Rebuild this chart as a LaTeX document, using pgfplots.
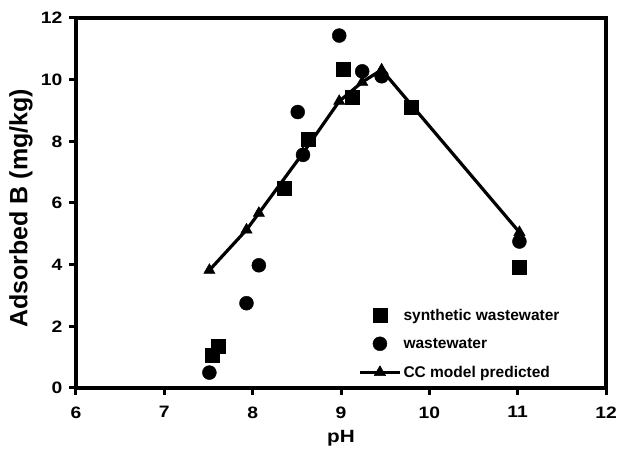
\documentclass[border=0pt]{standalone}
\usepackage{fontspec}
\setmainfont{Liberation Sans}
\newfontfamily\widefont[FakeStretch=1.17]{Liberation Sans}
\usepackage{pgfplots}
\pgfplotsset{compat=1.18}

\begin{document}
\begin{tikzpicture}
\useasboundingbox (-76pt,-61pt) rectangle (542pt,388pt);
\begin{axis}[at={(0pt,0pt)},anchor=south west,scale only axis,
  width=530pt,height=370pt,
  xmin=6,xmax=12,ymin=0,ymax=12,
  xtick={6,7,...,12},ytick={0,2,...,12},
  xtick pos=bottom,ytick pos=left,tick align=outside,
  major tick length=7pt,
  axis line style={line width=3.6pt},
  every tick/.style={black,line width=3pt},
  /pgf/number format/assume math mode=true,
  ticklabel style={font=\widefont\bfseries\fontsize{16.5}{16.5}\selectfont},
  xticklabel style={yshift=-8pt},
  yticklabel style={xshift=-3pt},
  xlabel={\widefont pH},ylabel={Adsorbed B (mg/kg)},
  xlabel style={font=\bfseries\fontsize{17.7}{17.7}\selectfont,
    at={(axis description cs:0.5,-0.146)},anchor=base},
  ylabel style={font=\bfseries\fontsize{25}{25}\selectfont,
    at={(axis description cs:-0.104,0.486)},anchor=center},
  legend style={at={(axis cs:9.16,2.7)},anchor=north west,draw=none,fill=none,
    font=\bfseries\fontsize{15.5}{15.5}\selectfont,row sep=12.3pt},
  legend cell align=left,
  legend image code/.code={\draw[mark repeat=2,mark phase=2,#1]
    plot coordinates {(0pt,0pt) (20pt,0pt) (40pt,0pt)};},
]
% model line drawn first so the symbols lie on top of it
\addplot[black,line width=3.2pt,mark=triangle*,mark size=6.5pt,
  mark options={line width=0.5pt},forget plot] coordinates {
  (7.51,3.82) (7.93,5.13) (8.07,5.67) (8.57,7.62) (8.98,9.30)
  (9.24,9.92) (9.46,10.32) (11.02,5.05)};
\addplot[only marks,mark=square*,mark size=7pt,black] coordinates {
  (7.54,1.07) (7.61,1.36) (8.36,6.48) (8.63,8.07) (9.02,10.35)
  (9.13,9.44) (9.79,9.11) (11.02,3.92)};
\addlegendentry{synthetic wastewater}
\addplot[only marks,mark=*,mark size=7pt,black] coordinates {
  (7.51,0.50) (7.93,2.75) (8.07,3.98) (8.51,8.95) (8.57,7.56)
  (8.98,11.43) (9.24,10.27) (9.46,10.11) (11.02,4.75)};
\addlegendentry{wastewater}
\addlegendimage{black,line width=3.2pt,mark=triangle*,mark size=6.5pt,
  mark options={line width=0.5pt}}
\addlegendentry{CC model predicted}
\end{axis}
\end{tikzpicture}
\end{document}
